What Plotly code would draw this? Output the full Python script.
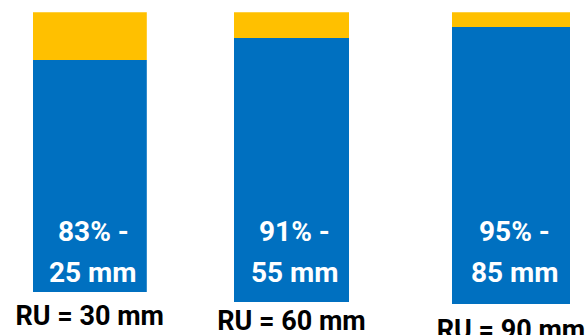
import plotly.graph_objects as go

# Available water (RU) categories and the share / amount used for each
categories = ["RU = 30 mm", "RU = 60 mm", "RU = 90 mm"]
pct_used = [83, 91, 95]
mm_used = [25, 55, 85]
pct_rest = [100 - p for p in pct_used]

BLUE = "#0070C0"
YELLOW = "#FFC000"
W, H = 587, 335

# Each bar sits in its own small panel (pixel extents on the page)
panel_x = [(32.6, 146.8), (234.0, 349.0), (452.0, 570.0)]
panel_bottom = [292.7, 302.3, 304.3]
panel_top = 12.3
label_standoff = [4, 0, 7]

fig = go.Figure()
layout = dict(
    template="none",
    width=W, height=H,
    margin=dict(l=0, r=0, t=0, b=0, pad=0),
    paper_bgcolor="white", plot_bgcolor="white",
    barmode="stack", bargap=0,
    showlegend=False,
    font=dict(family="Roboto", color="black"),
)
annotations = []

for i, cat in enumerate(categories):
    n = "" if i == 0 else str(i + 1)
    xa, ya = "x" + n, "y" + n
    fig.add_trace(go.Bar(x=[cat], y=[pct_used[i]], marker=dict(color=BLUE, line=dict(width=0)),
                         xaxis=xa, yaxis=ya, hoverinfo="skip"))
    fig.add_trace(go.Bar(x=[cat], y=[pct_rest[i]], marker=dict(color=YELLOW, line=dict(width=0)),
                         xaxis=xa, yaxis=ya, hoverinfo="skip"))
    x0, x1 = panel_x[i]
    layout["xaxis" + n] = dict(
        domain=[x0 / W, x1 / W], anchor=ya, automargin=False,
        showgrid=False, zeroline=False, showline=False, ticks="",
        ticklabelstandoff=label_standoff[i],
        tickfont=dict(family="Roboto", size=27, color="black", weight="bold"),
    )
    layout["yaxis" + n] = dict(
        domain=[(H - panel_bottom[i]) / H, (H - panel_top) / H], anchor=xa,
        automargin=False, range=[0, 100], showgrid=False, zeroline=False,
        showline=False, showticklabels=False, ticks="",
    )
    for txt, ypix in ((f"{pct_used[i]}% -", 231.5), (f"{mm_used[i]} mm", 272.5)):
        annotations.append(dict(
            text=f"<b>{txt}</b>", xref=xa + " domain", x=0.53, yref="paper",
            y=(H - ypix) / H, xanchor="center", yanchor="middle", showarrow=False,
            font=dict(family="Roboto", size=28, color="white"),
        ))

layout["annotations"] = annotations
fig.update_layout(**layout)
fig.write_html("out.html")
